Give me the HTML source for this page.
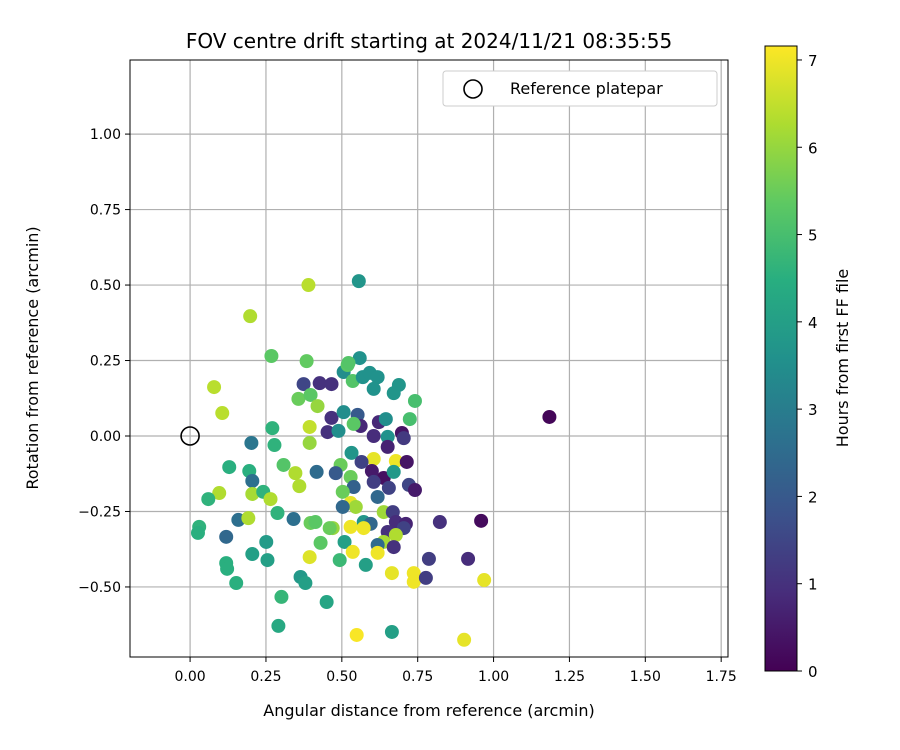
<!DOCTYPE html>
<html><head><meta charset="utf-8">
<style>
html,body{margin:0;padding:0;background:#fff;}
svg{display:block;font-family:"DejaVu Sans","Liberation Sans",sans-serif;}
</style></head>
<body>
<svg id="chart" width="900" height="750" viewBox="0 0 900 750" xmlns="http://www.w3.org/2000/svg">
<defs>
<linearGradient id="vir" x1="0" y1="1" x2="0" y2="0">
<stop offset="0" stop-color="#440154"/><stop offset="0.125" stop-color="#472d7b"/><stop offset="0.25" stop-color="#3b528b"/><stop offset="0.375" stop-color="#2c728e"/><stop offset="0.5" stop-color="#21918c"/><stop offset="0.625" stop-color="#28ae80"/><stop offset="0.75" stop-color="#5ec962"/><stop offset="0.875" stop-color="#addc30"/><stop offset="1" stop-color="#fde725"/>
</linearGradient>
<clipPath id="pc"><rect x="130" y="60" width="598" height="597"/></clipPath>
</defs>
<rect x="0" y="0" width="900" height="750" fill="#fff"/>
<text x="429" y="48" text-anchor="middle" font-size="20">FOV centre drift starting at 2024/11/21 08:35:55</text>
<g id="grid"></g>
<g id="points" clip-path="url(#pc)"></g>
<circle id="refpt" r="9" fill="none" stroke="#000" stroke-width="1.6"/>
<rect x="130" y="60" width="598" height="597" fill="none" stroke="#000" stroke-width="1"/>
<g id="xticks"></g>
<g id="yticks"></g>
<text x="429" y="716" text-anchor="middle" font-size="16">Angular distance from reference (arcmin)</text>
<text transform="translate(38,358) rotate(-90)" text-anchor="middle" font-size="16">Rotation from reference (arcmin)</text>
<g>
<rect x="443" y="71" width="274" height="35" rx="3" fill="#fff" stroke="#ccc"/>
<circle cx="473" cy="89" r="9" fill="none" stroke="#000" stroke-width="1.6"/>
<text x="510" y="94" font-size="16">Reference platepar</text>
</g>
<rect x="765" y="46" width="32" height="625" fill="url(#vir)" stroke="#000" stroke-width="1"/>
<g id="cticks"></g>
<text transform="translate(848,358) rotate(-90)" text-anchor="middle" font-size="16">Hours from first FF file</text>
</svg>
<script>
const xTicks=[0,0.25,0.5,0.75,1.0,1.25,1.5,1.75];
const yTicks=[-0.5,-0.25,0,0.25,0.5,0.75,1.0];
const cTicks=[0,1,2,3,4,5,6,7];
const xs=[1.184,0.198,0.390,0.556,0.268,0.384,0.079,0.106,0.374,0.427,0.466,0.357,0.397,0.420,0.466,0.453,0.489,0.506,0.506,0.519,0.394,0.394,0.271,0.278,0.202,0.559,0.522,0.536,0.569,0.592,0.618,0.605,0.688,0.671,0.741,0.724,0.552,0.562,0.539,0.622,0.645,0.605,0.651,0.698,0.704,0.651,0.532,0.605,0.678,0.714,0.496,0.565,0.480,0.529,0.599,0.638,0.605,0.671,0.721,0.741,0.655,0.539,0.503,0.618,0.529,0.546,0.503,0.638,0.668,0.678,0.711,0.704,0.572,0.595,0.529,0.572,0.470,0.823,0.959,0.651,0.678,0.638,0.618,0.671,0.509,0.536,0.618,0.493,0.579,0.787,0.916,0.665,0.737,0.737,0.777,0.969,0.549,0.665,0.903,0.129,0.308,0.195,0.205,0.205,0.241,0.265,0.096,0.060,0.347,0.360,0.417,0.288,0.341,0.159,0.192,0.030,0.026,0.119,0.251,0.205,0.255,0.119,0.122,0.152,0.301,0.291,0.364,0.380,0.450,0.397,0.413,0.460,0.430,0.394];
const ys=[0.063,0.397,0.500,0.513,0.265,0.248,0.162,0.076,0.172,0.175,0.172,0.123,0.136,0.099,0.060,0.013,0.017,0.079,0.212,0.235,0.030,-0.023,0.026,-0.030,-0.023,0.258,0.242,0.182,0.195,0.209,0.195,0.156,0.169,0.142,0.116,0.056,0.070,0.033,0.040,0.046,0.056,0.000,-0.003,0.010,-0.007,-0.036,-0.056,-0.076,-0.083,-0.086,-0.096,-0.086,-0.123,-0.136,-0.116,-0.139,-0.152,-0.119,-0.162,-0.179,-0.172,-0.169,-0.185,-0.202,-0.222,-0.235,-0.235,-0.252,-0.252,-0.285,-0.291,-0.305,-0.285,-0.291,-0.301,-0.305,-0.305,-0.285,-0.281,-0.318,-0.328,-0.351,-0.361,-0.368,-0.351,-0.384,-0.387,-0.411,-0.427,-0.407,-0.407,-0.454,-0.454,-0.483,-0.470,-0.477,-0.659,-0.649,-0.675,-0.103,-0.096,-0.116,-0.149,-0.192,-0.185,-0.209,-0.189,-0.209,-0.123,-0.166,-0.119,-0.255,-0.275,-0.278,-0.272,-0.301,-0.321,-0.334,-0.351,-0.391,-0.411,-0.421,-0.440,-0.487,-0.533,-0.629,-0.467,-0.487,-0.550,-0.288,-0.285,-0.305,-0.354,-0.401];
const hours=[0.1,6.3,6.4,3.7,5.3,5.4,6.4,6.4,1.5,1.0,1.0,5.5,5.3,6.0,1.0,1.0,3.5,3.5,3.5,5.3,6.5,6.0,4.6,4.6,2.8,3.6,5.2,5.2,3.6,3.6,3.6,3.6,3.7,3.7,5.0,5.0,2.0,0.8,5.3,0.8,3.5,0.9,3.6,0.4,1.2,0.7,3.7,6.9,7.0,0.4,5.5,1.4,2.0,5.5,0.5,0.3,1.3,3.8,1.5,0.5,1.4,2.2,5.5,2.4,6.9,6.1,2.4,6.1,1.3,0.9,0.7,1.4,3.7,2.4,7.0,7.0,6.0,1.0,0.2,1.0,6.3,6.2,2.5,1.0,4.0,7.0,7.0,4.8,4.0,1.3,0.9,6.9,7.0,7.0,1.3,6.9,7.1,4.0,6.9,4.5,5.2,4.5,2.6,6.2,4.6,6.3,6.3,4.6,6.3,6.3,2.5,4.6,2.6,2.6,6.3,4.6,4.5,2.4,3.9,4.0,4.0,4.5,4.5,4.5,4.7,4.3,3.8,4.0,4.2,5.5,5.3,5.5,5.3,6.8];
const refX=0, refY=0;
const X0=130,X1=728,xmin=-0.198,xmax=1.7725;
const Y0=60,Y1=657,ymin=-0.732,ymax=1.2454;
const CB0=671,CB1=46,cmin=0,cmax=7.16;
function sx(v){return X0+(v-xmin)/(xmax-xmin)*(X1-X0);}
function sy(v){return Y1-(v-ymin)/(ymax-ymin)*(Y1-Y0);}
function sc(v){return CB0-(v-cmin)/(cmax-cmin)*(CB0-CB1);}
const vir=[[68,1,84],[71,45,123],[59,82,139],[44,114,142],[33,145,140],[40,174,128],[94,201,98],[173,220,48],[253,231,37]];
function color(h){let t=Math.max(0,Math.min(1,(h-cmin)/(cmax-cmin)))*8;let i=Math.min(7,Math.floor(t));let f=t-i;const a=vir[i],b=vir[i+1];return 'rgb('+a.map((c,k)=>Math.round(c+(b[k]-c)*f)).join(',')+')';}
const NS='http://www.w3.org/2000/svg';
function mk(tag,attrs,parent){const e=document.createElementNS(NS,tag);for(const k in attrs)e.setAttribute(k,attrs[k]);parent.appendChild(e);return e;}
const grid=document.getElementById('grid'),xt=document.getElementById('xticks'),yt=document.getElementById('yticks'),ct=document.getElementById('cticks'),pts=document.getElementById('points');
xTicks.forEach(v=>{const x=sx(v);
const g=mk('line',{x1:x,x2:x,y1:Y0,y2:Y1,stroke:'#b0b0b0','stroke-width':1.2},grid);


const t=mk('line',{x1:x,x2:x,y1:Y1,y2:Y1+5,stroke:'#000'},xt);


const l=mk('text',{x:x,y:Y1+24,'text-anchor':'middle','font-size':14},xt);l.textContent=v.toFixed(2);

});
yTicks.forEach(v=>{const y=sy(v);
const g=mk('line',{x1:X0,x2:X1,y1:y,y2:y,stroke:'#b0b0b0','stroke-width':1.2},grid);


const t=mk('line',{x1:X0-5,x2:X0,y1:y,y2:y,stroke:'#000'},yt);


const l=mk('text',{x:X0-9,y:y+5,'text-anchor':'end','font-size':14},yt);l.textContent=(v<0?'\u2212':'')+Math.abs(v).toFixed(2);

});
cTicks.forEach(v=>{const y=sc(v);
const t=mk('line',{x1:797,x2:802,y1:y,y2:y,stroke:'#000'},ct);


const l=mk('text',{x:808,y:y+6,'font-size':15},ct);l.textContent=String(v);

});
xs.forEach((v,i)=>{const c=mk('circle',{cx:sx(v),cy:sy(ys[i]),r:7,fill:color(hours[i])},pts);

});
const rp=document.getElementById('refpt');rp.setAttribute('cx',sx(refX));rp.setAttribute('cy',sy(refY));
</script>
</body></html>
